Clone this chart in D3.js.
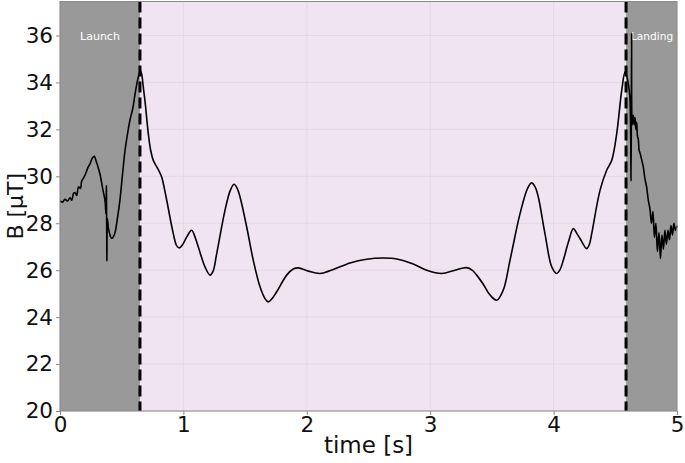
<!DOCTYPE html>
<html>
<head>
<meta charset="utf-8">
<script src="https://cdn.jsdelivr.net/npm/d3@7"></script>
<style>
  html, body { margin: 0; padding: 0; background: #ffffff; }
  svg { display: block; }
  text { font-family: "DejaVu Sans", sans-serif; }
</style>
</head>
<body>
<svg id="chart" width="685" height="463"></svg>
<script>
// ---- data ----
const times = [
  0.000, 0.020, 0.040, 0.060, 0.081, 0.095, 0.110, 0.122, 0.135, 0.150,
  0.165, 0.176, 0.190, 0.205, 0.229, 0.245, 0.262, 0.278, 0.290, 0.305,
  0.324, 0.345, 0.365, 0.372, 0.376, 0.380, 0.384, 0.392, 0.405, 0.419,
  0.435, 0.446, 0.465, 0.486, 0.505, 0.527, 0.547, 0.567, 0.590, 0.608,
  0.625, 0.643, 0.652, 0.662, 0.675, 0.689, 0.716, 0.735, 0.756, 0.790,
  0.824, 0.845, 0.865, 0.918, 0.945, 0.967, 0.995, 1.027, 1.067, 1.095,
  1.121, 1.175, 1.216, 1.240, 1.270, 1.337, 1.380, 1.410, 1.435, 1.459,
  1.513, 1.566, 1.621, 1.660, 1.688, 1.720, 1.756, 1.837, 1.890, 1.931,
  2.012, 2.107, 2.215, 2.350, 2.485, 2.620, 2.729, 2.863, 2.972, 3.093,
  3.201, 3.296, 3.340, 3.377, 3.430, 3.485, 3.539, 3.592, 3.647, 3.728,
  3.790, 3.822, 3.850, 3.876, 3.930, 3.985, 4.025, 4.050, 4.079, 4.120,
  4.160, 4.190, 4.214, 4.268, 4.290, 4.309, 4.376, 4.430, 4.471, 4.511,
  4.552, 4.579, 4.592, 4.605, 4.618, 4.628, 4.632, 4.637, 4.646, 4.653,
  4.660, 4.667, 4.673, 4.680, 4.686, 4.693, 4.700, 4.714, 4.727, 4.740,
  4.754, 4.767, 4.781, 4.793, 4.805, 4.817, 4.829, 4.841, 4.854, 4.866,
  4.878, 4.890, 4.902, 4.914, 4.927, 4.939, 4.951, 4.963, 4.975, 4.987,
  5.000
];
const field = [
  28.95, 28.90, 29.02, 28.95, 29.08, 28.98, 29.28, 29.30, 29.18, 29.55,
  29.48, 29.80, 29.92, 30.08, 30.40, 30.55, 30.78, 30.85, 30.70, 30.45,
  30.10, 29.50, 28.95, 28.40, 29.60, 26.40, 28.20, 27.80, 27.50, 27.35,
  27.45, 27.60, 28.20, 29.00, 30.00, 31.10, 31.80, 32.40, 32.90, 33.50,
  34.00, 34.40, 34.50, 34.35, 33.80, 33.20, 31.80, 31.10, 30.68, 30.35,
  29.97, 29.50, 28.98, 27.56, 27.05, 26.95, 27.10, 27.42, 27.70, 27.40,
  26.99, 26.14, 25.79, 25.95, 26.71, 28.55, 29.40, 29.66, 29.50, 29.12,
  27.84, 26.43, 25.29, 24.80, 24.65, 24.80, 25.08, 25.79, 26.05, 26.10,
  25.96, 25.86, 26.03, 26.31, 26.47, 26.52, 26.48, 26.26, 26.00, 25.86,
  26.00, 26.11, 26.00, 25.79, 25.40, 24.94, 24.72, 25.15, 26.43, 28.41,
  29.50, 29.72, 29.55, 29.12, 27.56, 26.14, 25.86, 26.00, 26.43, 27.20,
  27.77, 27.55, 27.35, 26.92, 27.10, 27.56, 29.40, 30.26, 30.68, 31.80,
  33.66, 34.45, 34.30, 33.94, 33.40, 29.80, 36.10, 32.20, 32.60, 32.20,
  32.50, 32.00, 32.30, 31.70, 31.60, 31.10, 31.00, 30.70, 30.40, 29.90,
  29.54, 29.00, 28.60, 28.00, 28.50, 27.40, 28.00, 26.80, 27.60, 26.50,
  27.50, 26.90, 27.70, 27.10, 27.70, 27.30, 27.90, 27.50, 28.00, 27.70,
  27.90
];
const xTicks = [0, 1, 2, 3, 4, 5];
const yTicks = [20, 22, 24, 26, 28, 30, 32, 34, 36];
const xDomain = [0, 5];
const yDomain = [20, 37.45];
const launchEnd = 0.648;
const landingStart = 4.587;
const phaseLabels = ["Launch", "Landing"];
const xLabel = "time [s]";
const yLabel = "B [\u00b5T]";

// ---- layout ----
const svg = d3.select("#chart");
const margin = { left: 60, right: 8, top: 1.5, bottom: 52 };
const W = 685, H = 463;
const x = d3.scaleLinear().domain(xDomain).range([margin.left, W - margin.right]);
const y = d3.scaleLinear().domain(yDomain).range([H - margin.bottom, margin.top]);

// pink background of the flight phase
svg.append("rect")
  .attr("x", x(xDomain[0])).attr("y", y(yDomain[1]))
  .attr("width", x(xDomain[1]) - x(xDomain[0]))
  .attr("height", y(yDomain[0]) - y(yDomain[1]))
  .attr("fill", "#f1e4f1");

// grid
const grid = svg.append("g").attr("stroke", "#e2d4e2").attr("stroke-width", 0.8);
xTicks.forEach(t => grid.append("line")
  .attr("x1", x(t)).attr("x2", x(t)).attr("y1", y(yDomain[0])).attr("y2", y(yDomain[1])));
yTicks.forEach(v => grid.append("line")
  .attr("x1", x(xDomain[0])).attr("x2", x(xDomain[1])).attr("y1", y(v)).attr("y2", y(v)));

// gray launch / landing spans
svg.append("rect")
  .attr("x", x(xDomain[0])).attr("y", y(yDomain[1]))
  .attr("width", x(launchEnd) - x(xDomain[0]))
  .attr("height", y(yDomain[0]) - y(yDomain[1]))
  .attr("fill", "#999999");
svg.append("rect")
  .attr("x", x(landingStart)).attr("y", y(yDomain[1]))
  .attr("width", x(xDomain[1]) - x(landingStart))
  .attr("height", y(yDomain[0]) - y(yDomain[1]))
  .attr("fill", "#999999");

// phase labels
svg.append("text").attr("x", (x(xDomain[0]) + x(launchEnd)) / 2).attr("y", 40)
  .attr("text-anchor", "middle").attr("font-size", 11).attr("fill", "#ffffff")
  .text(phaseLabels[0]);
svg.append("text").attr("x", (x(landingStart) + x(xDomain[1])) / 2 + 0.5).attr("y", 40)
  .attr("text-anchor", "middle").attr("font-size", 10.6).attr("fill", "#ffffff")
  .text(phaseLabels[1]);

// signal line
const pts = times.map((t, i) => [t, field[i]]);
const line = d3.line()
  .x(d => x(d[0])).y(d => y(d[1]))
  .curve(d3.curveCatmullRom.alpha(0.5));
svg.append("path").datum(pts)
  .attr("d", line)
  .attr("fill", "none")
  .attr("stroke", "#000000")
  .attr("stroke-width", 1.6)
  .attr("stroke-linejoin", "round");

// dashed phase boundaries
[launchEnd, landingStart].forEach(t => svg.append("line")
  .attr("x1", x(t)).attr("x2", x(t))
  .attr("y1", y(yDomain[1])).attr("y2", y(yDomain[0]))
  .attr("stroke", "#000000").attr("stroke-width", 3)
  .attr("stroke-dasharray", "11,5"));

// frame
svg.append("rect")
  .attr("x", x(xDomain[0])).attr("y", y(yDomain[1]))
  .attr("width", x(xDomain[1]) - x(xDomain[0]))
  .attr("height", y(yDomain[0]) - y(yDomain[1]))
  .attr("fill", "none").attr("stroke", "#8a8a8a").attr("stroke-width", 1);

// axes
const xAxis = d3.axisBottom(x).tickValues(xTicks).tickFormat(d3.format("d")).tickSize(4).tickPadding(2);
const yAxis = d3.axisLeft(y).tickValues(yTicks).tickFormat(d3.format("d")).tickSize(4).tickPadding(3);
const gx = svg.append("g").attr("transform", `translate(0,${y(yDomain[0])})`).call(xAxis);
const gy = svg.append("g").attr("transform", `translate(${x(xDomain[0])},0)`).call(yAxis);
[gx, gy].forEach(g => {
  g.select(".domain").remove();
  g.selectAll(".tick line").attr("stroke", "#8a8a8a");
  g.selectAll(".tick text").attr("fill", "#111111").attr("font-size", 21.5)
    .attr("font-family", "DejaVu Sans, sans-serif");
});

// axis labels
svg.append("text").attr("x", (x(xDomain[0]) + x(xDomain[1])) / 2).attr("y", 453)
  .attr("text-anchor", "middle").attr("font-size", 23).attr("fill", "#111111")
  .text(xLabel);
svg.append("text")
  .attr("transform", `translate(23,${(y(yDomain[0]) + y(yDomain[1])) / 2}) rotate(-90)`)
  .attr("text-anchor", "middle").attr("font-size", 22).attr("fill", "#111111")
  .text(yLabel);
</script>
</body>
</html>
